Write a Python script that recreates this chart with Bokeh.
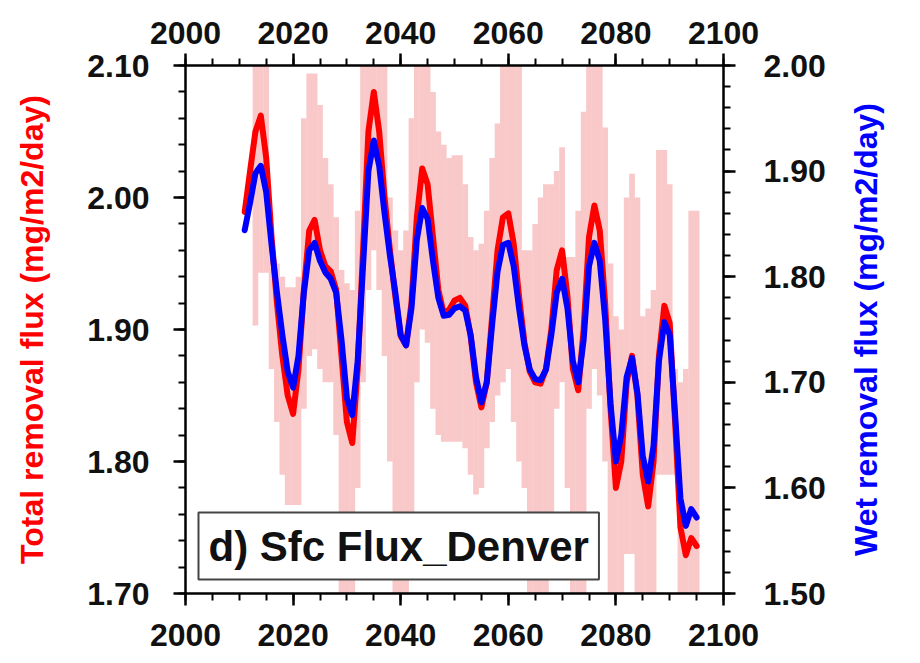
import math
import numpy as np
from bokeh.plotting import figure
from bokeh.layouts import row
from bokeh.core.properties import value
from bokeh.models import (LinearAxis, Range1d, SingleIntervalTicker,
                          NumeralTickFormatter, Label, ColumnDataSource)
from bokeh.embed import file_html
from bokeh.resources import INLINE

# ---------------- data ----------------
years = list(range(2011, 2096))

total_flux = [
    1.989, 2.020, 2.050, 2.062, 2.030, 1.970, 1.920, 1.880, 1.850, 1.836,   # 2011-2020
    1.870, 1.930, 1.975, 1.983, 1.960, 1.948, 1.944, 1.930, 1.880, 1.830,   # 2021-2030
    1.814, 1.870, 1.960, 2.050, 2.080, 2.050, 2.000, 1.960, 1.925, 1.895,   # 2031-2040
    1.888, 1.920, 1.985, 2.022, 2.010, 1.970, 1.930, 1.912, 1.915, 1.922,   # 2041-2050
    1.924, 1.918, 1.895, 1.860, 1.841, 1.860, 1.910, 1.960, 1.985, 1.988,   # 2051-2060
    1.965, 1.925, 1.890, 1.868, 1.860, 1.859, 1.870, 1.900, 1.945, 1.960,   # 2061-2070
    1.925, 1.870, 1.854, 1.900, 1.970, 1.994, 1.975, 1.920, 1.840, 1.780,   # 2071-2080
    1.800, 1.860, 1.880, 1.850, 1.790, 1.766, 1.800, 1.880, 1.918, 1.905,   # 2081-2090
    1.830, 1.750, 1.729, 1.742, 1.736,                                       # 2091-2095
]

wet_flux = [
    1.844, 1.870, 1.898, 1.905, 1.880, 1.830, 1.785, 1.745, 1.710, 1.695,
    1.725, 1.785, 1.825, 1.832, 1.815, 1.804, 1.798, 1.785, 1.740, 1.685,
    1.669, 1.720, 1.810, 1.900, 1.929, 1.905, 1.860, 1.820, 1.785, 1.745,
    1.735, 1.770, 1.835, 1.865, 1.855, 1.815, 1.780, 1.763, 1.764, 1.770,
    1.772, 1.768, 1.745, 1.705, 1.681, 1.700, 1.755, 1.805, 1.830, 1.832,
    1.810, 1.770, 1.735, 1.712, 1.703, 1.702, 1.712, 1.745, 1.785, 1.798,
    1.770, 1.720, 1.700, 1.740, 1.810, 1.832, 1.815, 1.760, 1.680, 1.625,
    1.650, 1.705, 1.723, 1.690, 1.630, 1.606, 1.640, 1.720, 1.757, 1.745,
    1.670, 1.590, 1.564, 1.580, 1.572,
]

nan = float("nan")
band_low = [
    nan, nan, 1.903, 1.943, 1.943, 1.870, 1.830, 1.790, 1.767, 1.767,   # 2011-2020
    1.767, 1.840, 1.880, 1.885, 1.870, 1.860, 1.860, 1.820, 1.650, 1.650,   # 2021-2030
    1.650, 1.780, 1.860, 1.930, 1.960, 1.930, 1.880, 1.800, 1.650, 1.650,   # 2031-2040
    1.650, 1.760, 1.860, 1.900, 1.890, 1.840, 1.820, 1.815, 1.815, 1.815,   # 2041-2050
    1.815, 1.810, 1.790, 1.775, 1.780, 1.810, 1.830, 1.850, 1.860, 1.870,   # 2051-2060
    1.830, 1.800, 1.780, 1.650, 1.650, 1.650, 1.650, 1.720, 1.840, 1.860,   # 2061-2070
    1.780, 1.650, 1.650, 1.650, 1.840, 1.870, 1.850, 1.800, 1.650, 1.650,   # 2071-2080
    1.650, 1.730, 1.730, 1.650, 1.650, 1.650, 1.650, 1.790, 1.790, 1.790,   # 2081-2090
    1.790, 1.650, 1.650, 1.650, 1.650,                                       # 2091-2095
]

band_high = [
    nan, nan, 2.200, 2.200, 2.200, 1.965, 1.950, 1.940, 1.932, 1.932,
    1.940, 2.060, 2.094, 2.094, 2.070, 2.030, 2.010, 1.985, 1.945, 1.935,
    1.930, 1.990, 2.200, 2.200, 2.200, 2.200, 2.100, 2.000, 1.975, 1.960,
    1.975, 2.060, 2.200, 2.200, 2.200, 2.080, 2.050, 2.040, 2.030, 2.032,
    2.032, 2.010, 1.970, 1.960, 1.965, 1.990, 2.030, 2.056, 2.200, 2.200,
    2.200, 2.200, 1.960, 1.960, 1.980, 2.000, 2.010, 2.010, 2.020, 2.038,
    1.955, 1.955, 1.990, 2.065, 2.200, 2.200, 2.200, 2.053, 1.950, 1.910,
    1.900, 2.000, 2.018, 2.000, 1.910, 1.916, 1.930, 2.036, 2.036, 2.010,
    1.870, 1.860, 1.870, 1.990, 1.990,
]

panel_title = "d) Sfc Flux_Denver"
left_title = "Total removal flux (mg/m2/day)"
right_title = "Wet removal flux (mg/m2/day)"

FONT = "Liberation Sans"

src = ColumnDataSource(dict(year=years, total=total_flux, wet=wet_flux,
                            lo=band_low, hi=band_high))

p = figure(frame_width=538, frame_height=528,
           x_range=Range1d(2000, 2100), y_range=Range1d(1.70, 2.10),
           output_backend="svg", toolbar_location=None,
           min_border_left=185, min_border_right=115,
           min_border_top=65, min_border_bottom=70,
           background_fill_color="white", border_fill_color="white")
p.outline_line_color = None
p.xgrid.visible = False
p.ygrid.visible = False
p.extra_y_ranges = {"wet": Range1d(1.50, 2.00)}

# spread band (slightly wider than 1 year so adjacent bars join seamlessly)
p.vbar(x="year", width=1.06, bottom="lo", top="hi", source=src,
       fill_color="#F9C8C8", line_color=None)
# lines
p.line("year", "total", source=src, line_color="#FF0000", line_width=6,
       line_join="round", line_cap="round")
p.line("year", "wet", source=src, line_color="#0000FF", line_width=6,
       line_join="round", line_cap="round", y_range_name="wet")

def style_axis(ax, standoff):
    ax.axis_line_width = 2.5
    ax.axis_line_color = "black"
    ax.major_tick_out = 12
    ax.major_tick_in = 0
    ax.minor_tick_out = 7
    ax.minor_tick_in = 0
    ax.major_tick_line_width = 2.5
    ax.minor_tick_line_width = 2
    ax.major_tick_line_color = "black"
    ax.minor_tick_line_color = "black"
    ax.major_label_text_font = FONT
    ax.major_label_text_font_size = "32px"
    ax.major_label_text_font_style = "bold"
    ax.major_label_text_color = "#111111"
    ax.major_label_standoff = standoff

# bottom axis
bx = p.xaxis[0]
bx.ticker = SingleIntervalTicker(interval=20, num_minor_ticks=4)
bx.formatter = NumeralTickFormatter(format="0")
style_axis(bx, 18)

# top axis
tx = LinearAxis(ticker=SingleIntervalTicker(interval=20, num_minor_ticks=4),
                formatter=NumeralTickFormatter(format="0"))
style_axis(tx, 10)
p.add_layout(tx, "above")

# left axis
ly = p.yaxis[0]
ly.ticker = SingleIntervalTicker(interval=0.1, num_minor_ticks=5)
ly.formatter = NumeralTickFormatter(format="0.00")
style_axis(ly, 24)
ly.axis_label = left_title
ly.axis_label_text_color = "#FF0000"
ly.axis_label_text_font = FONT
ly.axis_label_text_font_size = "32px"
ly.axis_label_text_font_style = "bold"
ly.axis_label_standoff = 34

# right axis
ry = LinearAxis(y_range_name="wet",
                ticker=SingleIntervalTicker(interval=0.1, num_minor_ticks=5),
                formatter=NumeralTickFormatter(format="0.00"))
style_axis(ry, 28)
p.add_layout(ry, "right")

# panel label box
lab = Label(x=13, y=14, x_units="screen", y_units="screen",
            text=panel_title, text_font=FONT, text_font_size="42px",
            text_font_style="bold", text_color="#111111",
            border_line_color="#444444", border_line_width=2,
            background_fill_color="white", padding=10)
p.add_layout(lab)

# narrow strip to the right holding the right-axis title (reads bottom-to-top)
side = figure(width=82, height=663, x_range=Range1d(0, 1), y_range=Range1d(0, 1),
              output_backend="svg", toolbar_location=None,
              x_axis_type=None, y_axis_type=None, min_border=0,
              background_fill_color="white", border_fill_color="white")
side.outline_line_color = None
side.xgrid.visible = False
side.ygrid.visible = False
side.text(x=[0.33], y=[0.5], text=[right_title], angle=math.pi / 2,
          text_align="center", text_baseline="middle",
          text_font=value(FONT), text_font_size="32px",
          text_font_style="bold", text_color="#0000FF")

layout = row(p, side, spacing=0)
open("out.html", "w").write(file_html(layout, INLINE))
